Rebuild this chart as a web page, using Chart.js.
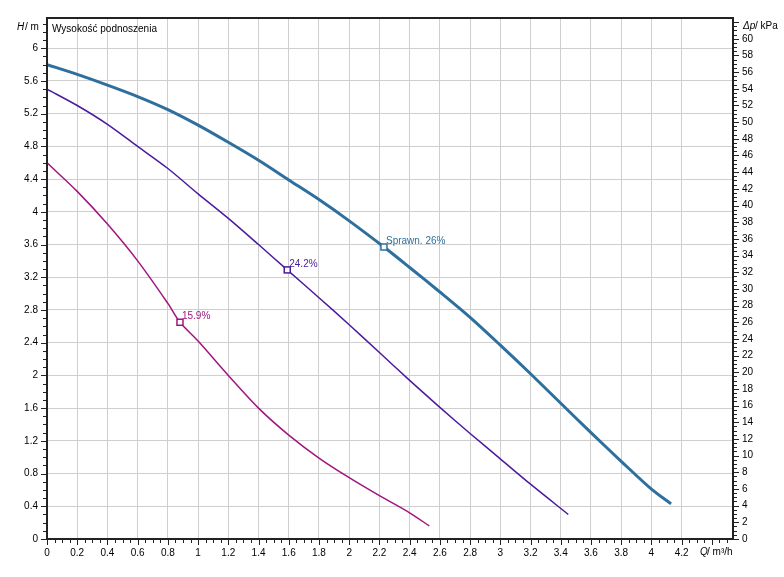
<!DOCTYPE html><html><head><meta charset="utf-8">
<script src="https://cdn.jsdelivr.net/npm/chart.js@4"></script>
<style>html,body{margin:0;background:#fff}#w{width:784px;height:577px}</style></head><body>
<div id="w"><canvas id="c"></canvas></div>
<script>
const xMax=4.54, yMax=6.37;
const blueQ=[0,0.2,0.4,0.6,0.8,1.0,1.2,1.4,1.6,1.8,2.0,2.23,2.4,2.6,2.8,3.0,3.2,3.4,3.6,3.8,4.0,4.13];
const blueH=[5.8,5.68,5.55,5.41,5.25,5.06,4.85,4.63,4.39,4.15,3.89,3.57,3.32,3.02,2.71,2.37,2.02,1.66,1.3,0.95,0.61,0.43];
const purpQ=[0,0.2,0.4,0.6,0.8,1.0,1.2,1.4,1.59,1.8,2.0,2.2,2.4,2.6,2.8,3.0,3.2,3.45];
const purpH=[5.5,5.3,5.07,4.8,4.53,4.22,3.92,3.6,3.29,2.95,2.62,2.28,1.94,1.61,1.29,0.98,0.67,0.3];
const magQ=[0,0.2,0.4,0.6,0.8,0.88,1.0,1.2,1.4,1.6,1.8,2.0,2.2,2.4,2.53];
const magH=[4.6,4.25,3.85,3.4,2.88,2.65,2.42,2.0,1.6,1.27,0.99,0.75,0.53,0.32,0.16];
const markers=[{q:2.23,h:3.57,t:'Sprawn. 26%',c:'#2e6f9e'},{q:1.59,h:3.29,t:'24.2%',c:'#4b1a9e'},{q:0.88,h:2.65,t:'15.9%',c:'#a0157e'}];
const xTicks=[];for(let i=0;i<=21;i++)xTicks.push(+(i*0.2).toFixed(1));
const yTicks=[];for(let i=0;i<=15;i++)yTicks.push(+(i*0.4).toFixed(1));
const kTicks=[];for(let i=0;i<=30;i++)kTicks.push(i*2);
const pts=(q,h)=>q.map((v,i)=>({x:v,y:h[i]}));
const F='"Liberation Sans", Arial, sans-serif';
const deco={id:'deco',afterDraw(ch){
 const c=ch.ctx,a=ch.chartArea,x=ch.scales.x,y=ch.scales.y,k=ch.scales.k;
 c.save();c.strokeStyle='#222';c.lineWidth=1;
 c.beginPath();
 for(let v=0;v<=xMax+1e-6;v+=0.05){const p=Math.round(x.getPixelForValue(v))+0.5;const big=Math.abs(v/0.2-Math.round(v/0.2))<1e-6;c.moveTo(p,a.bottom);c.lineTo(p,a.bottom+(big?6:4));}
 for(let v=0;v<=yMax+1e-6;v+=0.1){const p=Math.round(y.getPixelForValue(v))+0.5;const big=Math.abs(v/0.4-Math.round(v/0.4))<1e-6;c.moveTo(a.left,p);c.lineTo(a.left-(big?6:4),p);}
 for(let v=0;v<=yMax*9.81;v+=0.5){const p=Math.round(k.getPixelForValue(v))+0.5;const big=Math.abs(v/2-Math.round(v/2))<1e-6;c.moveTo(a.right,p);c.lineTo(a.right+(big?6:4),p);}
 c.stroke();
 c.lineWidth=2;c.strokeRect(a.left,a.top,a.right-a.left,a.bottom-a.top);
 c.font='10px '+F;c.fillStyle='#000';c.textBaseline='middle';
 c.textAlign='left';c.fillText('Wysokość podnoszenia',a.left+5,a.top+11);
 c.font='italic 10px '+F;c.fillText('H',17,27);c.font='10px '+F;c.fillText('/ m',25,27);
 c.font='italic 10px '+F;c.fillText('Δp',743,26);c.font='10px '+F;c.fillText('/ kPa',755,26);
 c.font='italic 10px '+F;c.fillText('Q',700,552);c.font='10px '+F;c.fillText('/ m³/h',707,552);
 markers.forEach(m=>{const px=x.getPixelForValue(m.q),py=y.getPixelForValue(m.h);c.strokeStyle=m.c;c.lineWidth=1.5;c.fillStyle='#fff';c.fillRect(px-3,py-3,6,6);c.strokeRect(px-3,py-3,6,6);c.fillStyle=m.c;c.textBaseline='bottom';c.fillText(m.t,px+2,py-1);});
 c.restore();}};
new Chart(document.getElementById('c'),{type:'scatter',
data:{datasets:[
 {data:pts(blueQ,blueH),borderColor:'#2e6f9e',borderWidth:3,showLine:true,pointRadius:0,tension:0.3},
 {data:pts(purpQ,purpH),borderColor:'#4b1a9e',borderWidth:1.5,showLine:true,pointRadius:0,tension:0.3},
 {data:pts(magQ,magH),borderColor:'#a0157e',borderWidth:1.5,showLine:true,pointRadius:0,tension:0.3}]},
plugins:[deco],
options:{responsive:true,maintainAspectRatio:false,animation:false,layout:{padding:{top:18}},
 plugins:{legend:{display:false},tooltip:{enabled:false}},
 scales:{
  x:{type:'linear',min:0,max:xMax,afterBuildTicks:s=>{s.ticks=xTicks.map(v=>({value:v}))},afterFit:s=>{s.height=38},
     grid:{color:'#cfcfcf',drawTicks:false},border:{display:false},ticks:{padding:8,color:'#000',font:{size:10,family:F},maxRotation:0,callback:v=>String(+v.toFixed(1))}},
  y:{min:0,max:yMax,afterBuildTicks:s=>{s.ticks=yTicks.map(v=>({value:v}))},afterFit:s=>{s.width=47},
     grid:{color:'#cfcfcf',drawTicks:false},border:{display:false},ticks:{padding:9,color:'#000',font:{size:10,family:F},callback:v=>String(+v.toFixed(1))}},
  k:{position:'right',min:0,max:yMax*9.81,afterBuildTicks:s=>{s.ticks=kTicks.map(v=>({value:v}))},afterFit:s=>{s.width=51},
     grid:{display:false,drawTicks:false},border:{display:false},ticks:{padding:9,color:'#000',font:{size:10,family:F}}}
 }}});
</script></body></html>
